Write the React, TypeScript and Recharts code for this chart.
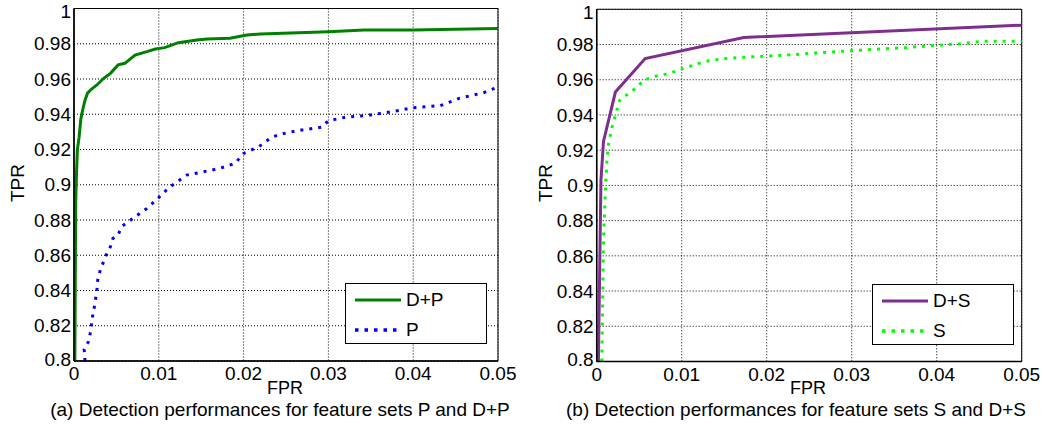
import React from "react";
import {
  LineChart,
  Line,
  XAxis,
  YAxis,
  CartesianGrid,
  ReferenceArea,
  Legend,
} from "recharts";

// axis ticks shared by both panels
const fprTicks = [0, 0.01, 0.02, 0.03, 0.04, 0.05];
const tprTicks = [0.8, 0.82, 0.84, 0.86, 0.88, 0.9, 0.92, 0.94, 0.96, 0.98, 1];

// (a) D+P
const dpFpr = [
  0.0001, 0.0002, 0.0003, 0.0004, 0.0006, 0.0008, 0.001, 0.0013, 0.0016, 0.002,
  0.0027, 0.0035, 0.0043, 0.0052, 0.006, 0.0072, 0.0086, 0.0096, 0.0107, 0.0123,
  0.0145, 0.0157, 0.0184, 0.0204, 0.022, 0.03, 0.0342, 0.04, 0.05,
];
const dpTpr = [
  0.8, 0.89, 0.907, 0.92, 0.927, 0.937, 0.942, 0.948, 0.952, 0.954,
  0.9566, 0.9604, 0.9632, 0.968, 0.9689, 0.9736, 0.9755, 0.977, 0.9778, 0.9806,
  0.9821, 0.9827, 0.9831, 0.985, 0.9855, 0.9868, 0.9878, 0.9878, 0.9887,
];

// (a) P
const pFpr = [
  0.0013, 0.0012, 0.0017, 0.002, 0.0021, 0.0023, 0.0025, 0.0027, 0.0028, 0.0031,
  0.0038, 0.0043, 0.0046, 0.0052, 0.0056, 0.0068, 0.0086, 0.0099, 0.0111, 0.0119,
  0.0133, 0.0153, 0.0172, 0.019, 0.02, 0.0218, 0.0233, 0.0243, 0.0263, 0.0292,
  0.03, 0.032, 0.035, 0.0379, 0.0399, 0.0432, 0.0454, 0.0483, 0.05,
];
const pTpr = [
  0.8, 0.8066, 0.8109, 0.8176, 0.8232, 0.828, 0.8336, 0.8403, 0.846, 0.8516,
  0.8602, 0.8649, 0.8696, 0.8715, 0.8762, 0.8804, 0.8866, 0.8923, 0.898, 0.9008,
  0.9055, 0.9074, 0.9093, 0.9121, 0.9178, 0.9216, 0.9269, 0.9286, 0.9307, 0.9326,
  0.9363, 0.9383, 0.9396, 0.9418, 0.9437, 0.9449, 0.949, 0.9522, 0.9555,
];

// (b) D+S
const dsFpr = [0.0002, 0.0005, 0.0008, 0.0022, 0.0057, 0.0173, 0.05];
const dsTpr = [0.8, 0.903, 0.925, 0.953, 0.972, 0.984, 0.991];

// (b) S
const sFpr = [
  0.0006, 0.0008, 0.001, 0.0012, 0.0014, 0.0018, 0.0022, 0.0027, 0.0037, 0.0047,
  0.0055, 0.0069, 0.0086, 0.0098, 0.0114, 0.0128, 0.0145, 0.0169, 0.02, 0.0223,
  0.0267, 0.031, 0.0365, 0.0399, 0.0432, 0.0452, 0.05,
];
const sTpr = [
  0.8, 0.8687, 0.895, 0.914, 0.9237, 0.9331, 0.9398, 0.9483, 0.952, 0.9555,
  0.9597, 0.962, 0.9636, 0.9658, 0.9683, 0.9705, 0.9717, 0.9727, 0.9734, 0.974,
  0.9755, 0.9768, 0.9783, 0.9795, 0.9806, 0.9818, 0.9818,
];

const FONT = '"Liberation Sans", Arial, Helvetica, sans-serif';

type Pt = { fpr: number; tpr: number };
const zip = (xs: number[], ys: number[]): Pt[] =>
  xs.map((fpr, i) => ({ fpr, tpr: ys[i] }));

type Series = {
  name: string;
  data: Pt[];
  color: string;
  dotted?: boolean;
};

const seriesA: Series[] = [
  { name: "D+P", data: zip(dpFpr, dpTpr), color: "#008000" },
  { name: "P", data: zip(pFpr, pTpr), color: "#0000ff", dotted: true },
];

const seriesB: Series[] = [
  { name: "D+S", data: zip(dsFpr, dsTpr), color: "#7e2f8e" },
  { name: "S", data: zip(sFpr, sTpr), color: "#00ff00", dotted: true },
];

// y tick labels; the end labels are nudged inwards so they stay on the page
function TprTick(props: any) {
  const { x, y, payload } = props;
  const v = payload.value as number;
  const shift = v === 1 ? 3 : v === 0.8 ? -2 : 0;
  return (
    <text
      x={x}
      y={y + shift}
      dy="0.355em"
      textAnchor="end"
      fill="#000"
      fontSize={19}
      fontFamily={FONT}
    >
      {String(v)}
    </text>
  );
}

function LegendBox({ series }: { series: Series[] }) {
  return (
    <div
      style={{
        position: "relative",
        width: 140,
        height: 59,
        border: "1.5px solid #000",
        background: "#fff",
        fontFamily: FONT,
        fontSize: 19,
        boxSizing: "content-box",
      }}
    >
      {series.map((s, i) => (
        <div
          key={s.name}
          style={{
            position: "absolute",
            left: 0,
            top: 4 + i * 30,
            height: 24,
            display: "flex",
            alignItems: "center",
          }}
        >
          <svg width={60} height={24} style={{ display: "block" }}>
            <line
              x1={9}
              x2={55}
              y1={12}
              y2={12}
              stroke={s.color}
              strokeWidth={s.dotted ? 3.5 : 3}
              strokeDasharray={s.dotted ? "3.5 6" : undefined}
            />
          </svg>
          <span style={{ color: "#000", lineHeight: "24px" }}>{s.name}</span>
        </div>
      ))}
    </div>
  );
}

type PanelProps = {
  series: Series[];
  width: number;
  yAxisWidth: number;
  top: number;
  right: number;
  xAxisHeight: number;
  legendPos: { left: number; top: number };
};

function RocPanel({
  series,
  width,
  yAxisWidth,
  top,
  right,
  xAxisHeight,
  legendPos,
}: PanelProps) {
  const tickStyle = { fill: "#000", fontSize: 19, fontFamily: FONT };
  return (
    <LineChart
      width={width}
      height={428}
      margin={{ top, right, bottom: 0, left: 0 }}
    >
      <CartesianGrid
        stroke="#000"
        strokeDasharray="1 2"
        horizontalValues={tprTicks}
        verticalValues={fprTicks}
      />
      <XAxis
        dataKey="fpr"
        type="number"
        domain={[0, 0.05]}
        ticks={fprTicks}
        height={xAxisHeight}
        allowDataOverflow
        axisLine={{ stroke: "#000", strokeWidth: 1.5 }}
        tickLine={false}
        tickSize={0}
        tickMargin={6}
        tick={tickStyle}
        interval={0}
      />
      <XAxis
        xAxisId="top"
        orientation="top"
        type="number"
        domain={[0, 0.05]}
        ticks={fprTicks}
        height={0}
        mirror
        tick={false}
        tickSize={4}
        axisLine={{ stroke: "#000", strokeWidth: 1.5 }}
        tickLine={{ stroke: "#000" }}
      />
      <YAxis
        type="number"
        domain={[0.8, 1]}
        ticks={tprTicks}
        width={yAxisWidth}
        allowDataOverflow
        axisLine={{ stroke: "#000", strokeWidth: 1.5 }}
        tickLine={false}
        tickSize={0}
        tickMargin={3}
        tick={<TprTick />}
        interval={0}
      />
      <YAxis
        yAxisId="right"
        orientation="right"
        type="number"
        domain={[0.8, 1]}
        ticks={tprTicks}
        width={0}
        mirror
        tick={false}
        tickSize={4}
        axisLine={{ stroke: "#000", strokeWidth: 1.5 }}
        tickLine={{ stroke: "#000" }}
      />
      <ReferenceArea
        x1={0}
        x2={0.05}
        y1={0.8}
        y2={1}
        fill="none"
        stroke="#000"
        strokeWidth={1}
      />
      {series.map((s) => (
        <Line
          key={s.name}
          name={s.name}
          data={s.data}
          dataKey="tpr"
          type="linear"
          stroke={s.color}
          strokeWidth={3}
          strokeDasharray={s.dotted ? "3 6" : undefined}
          dot={false}
          activeDot={false}
          isAnimationActive={false}
        />
      ))}
      <Legend
        layout="vertical"
        align="center"
        verticalAlign="middle"
        wrapperStyle={{ left: legendPos.left, top: legendPos.top, width: 143 }}
        content={() => <LegendBox series={series} />}
      />
    </LineChart>
  );
}

export default function App() {
  return (
    <div
      style={{
        position: "absolute",
        left: 0,
        top: 0,
        width: 1043,
        height: 428,
        background: "#fff",
        overflow: "hidden",
      }}
    >
      <div style={{ position: "absolute", left: 0, top: 0 }}>
        <RocPanel
          series={seriesA}
          width={530}
          yAxisWidth={74}
          top={8.5}
          right={32}
          xAxisHeight={67}
          legendPos={{ left: 345, top: 283 }}
        />
      </div>
      <div style={{ position: "absolute", left: 530, top: 0 }}>
        <RocPanel
          series={seriesB}
          width={513}
          yAxisWidth={66.7}
          top={9.3}
          right={21.3}
          xAxisHeight={66.5}
          legendPos={{ left: 342, top: 284 }}
        />
      </div>
      <svg
        width={1043}
        height={428}
        style={{ position: "absolute", left: 0, top: 0, pointerEvents: "none" }}
        fontFamily={FONT}
        fill="#000"
      >
        <text x={285} y={394} fontSize={18} textAnchor="middle">
          FPR
        </text>
        <text x={808} y={394} fontSize={18} textAnchor="middle">
          FPR
        </text>
        <text
          x={0}
          y={0}
          fontSize={19}
          textAnchor="middle"
          transform="translate(24 183) rotate(-90)"
        >
          TPR
        </text>
        <text
          x={0}
          y={0}
          fontSize={19}
          textAnchor="middle"
          transform="translate(552 183) rotate(-90)"
        >
          TPR
        </text>
        <text x={280} y={416} fontSize={19} textAnchor="middle">
          (a) Detection performances for feature sets P and D+P
        </text>
        <text x={796} y={416} fontSize={19} textAnchor="middle">
          (b) Detection performances for feature sets S and D+S
        </text>
      </svg>
    </div>
  );
}
